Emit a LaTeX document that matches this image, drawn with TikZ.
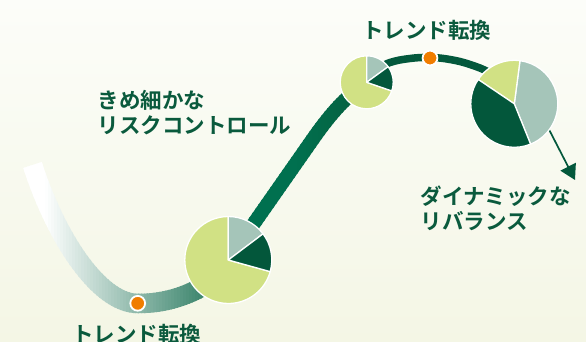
\documentclass[tikz,border=0pt]{standalone}
\usepackage{fontspec}
\newfontfamily\jp{Noto Sans CJK JP}[BoldFont={Noto Sans CJK JP Bold}]
\usetikzlibrary{arrows.meta}
\definecolor{bgtop}{HTML}{FCFDF9}
\definecolor{bgbot}{HTML}{F4F6E5}
\definecolor{bandA}{HTML}{2F7D63}
\definecolor{bandC}{HTML}{00704F}
\definecolor{bandD}{HTML}{06603F}
\definecolor{arcc}{HTML}{03583C}
\definecolor{pyel}{HTML}{D1E184}
\definecolor{pgray}{HTML}{A5C5B9}
\definecolor{pdark}{HTML}{03573B}
\definecolor{dotc}{HTML}{F07D00}
\definecolor{txtc}{HTML}{0A5A3D}
\newcommand\pieslice[5]{\fill[#5, draw=white, line width=1.3pt, line join=round] (#1) -- ++(#3:#2) arc[start angle=#3, end angle=#4, radius=#2] -- cycle;}
\begin{document}
\begin{tikzpicture}[x=1pt,y=1pt,
  txt/.style={font=\jp\bfseries\fontsize{21.5}{25}\selectfont, text=txtc, inner sep=0pt, anchor=base west},
  dotst/.style={circle, fill=dotc, draw=white, line width=1.8pt, minimum size=14.8pt, inner sep=0pt},
  arrowline/.style={line width=1.7pt, draw=arcc, -{Triangle[length=15pt,width=17pt]}}]
\useasboundingbox (0,0) rectangle (586,341);
\shade[top color=bgtop, bottom color=bgbot] (0,0) rectangle (586,341);

% left gradient band
\def\leftpath{(32.5,176) .. controls (55,106) and (98,37.5) .. (138,37.5) .. controls (165,37.5) and (190,45) .. (215,62)}
\foreach \x in {18,21,...,222}{
  \pgfmathsetmacro\f{min(max((\x+1.5-45)/170,0),1)*100}
  \begin{scope}
    \clip (\x,0) rectangle (\x+4,341);
    \draw[line width=19.5pt, bandA!\f!white] \leftpath;
  \end{scope}
}
% steep band
\def\steeppath{(228.3,81) -- (315,205) .. controls (330,226) and (345,244) .. (366.7,258.7)}
\foreach \x in {222,225,...,372}{
  \pgfmathsetmacro\f{min(max((\x+1.5-295)/65,0),1)*100}
  \begin{scope}
    \clip (\x,0) rectangle (\x+4,341);
    \draw[line width=14pt, bandD!\f!bandC] \steeppath;
  \end{scope}
}
% thin arc
\draw[line width=7.5pt, arcc] plot[smooth, tension=0.7] coordinates {(375,271) (390,278.5) (410,282.5) (430,283.5) (450,281.5) (470,276.5) (490,268) (505,255)};

% arrow
\coordinate (as) at (540,229);
\coordinate (tip) at (575,161);
\draw[arrowline] (as) -- (tip);

% pies
\coordinate (c1) at (228.3,81);
\coordinate (c2) at (366.7,258.7);
\coordinate (c3) at (514.3,237.2);
\pieslice{c1}{43.5pt}{90}{344.5}{pyel}
\pieslice{c1}{43.5pt}{37}{90}{pgray}
\pieslice{c1}{43.5pt}{-15.5}{37}{pdark}
\pieslice{c2}{26.5pt}{90}{341}{pyel}
\pieslice{c2}{26.5pt}{36}{90}{pgray}
\pieslice{c2}{26.5pt}{-19}{36}{pdark}
\pieslice{c3}{43.5pt}{-68}{82.5}{pgray}
\pieslice{c3}{43.5pt}{82.5}{146}{pyel}
\pieslice{c3}{43.5pt}{146}{292}{pdark}

% dots
\node[dotst] (d1) at (137.7,37.7) {};
\node[dotst] (d2) at (430,283) {};

% texts
\node[txt] (t1) at (362,302) {トレンド転換};
\node[txt] (t2) at (72,-1) {トレンド転換};
\node[txt] (t3) at (97.5,232.5) {きめ細かな};
\node[txt] (t4) at (97.5,208) {リスクコントロール};
\node[txt] (t5) at (420.5,137) {ダイナミックな};
\node[txt] (t6) at (420.5,112) {リバランス};
\end{tikzpicture}
\end{document}
